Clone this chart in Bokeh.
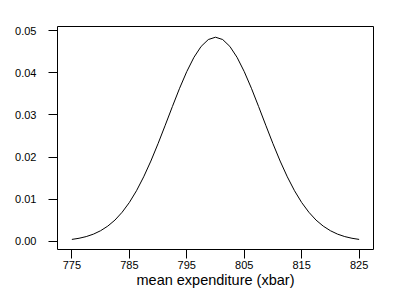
from bokeh.plotting import figure
from bokeh.models import FixedTicker, Range1d, NumeralTickFormatter
from bokeh.embed import file_html
from bokeh.resources import INLINE

# values
xbar = [775, 776.25, 777.5, 778.75, 780, 781.25, 782.5, 783.75, 785, 786.25,
        787.5, 788.75, 790, 791.25, 792.5, 793.75, 795, 796.25, 797.5, 798.75,
        800, 801.25, 802.5, 803.75, 805, 806.25, 807.5, 808.75, 810, 811.25,
        812.5, 813.75, 815, 816.25, 817.5, 818.75, 820, 821.25, 822.5, 823.75,
        825]
density = [0.00049, 0.00076, 0.00116, 0.00174, 0.00255, 0.00364, 0.00507,
           0.00693, 0.00923, 0.01203, 0.01532, 0.01906, 0.02318, 0.02755,
           0.03199, 0.03631, 0.04027, 0.04365, 0.04623, 0.04786, 0.04841,
           0.04786, 0.04623, 0.04365, 0.04027, 0.03631, 0.03199, 0.02755,
           0.02318, 0.01906, 0.01532, 0.01203, 0.00923, 0.00693, 0.00507,
           0.00364, 0.00255, 0.00174, 0.00116, 0.00076, 0.00049]
x_ticks = [775, 785, 795, 805, 815, 825]
y_ticks = [0.00, 0.01, 0.02, 0.03, 0.04, 0.05]

p = figure(width=397, height=302, output_backend="svg", toolbar_location=None,
           x_range=Range1d(772.5, 827.5), y_range=Range1d(-0.0019, 0.05095),
           min_border_left=57, min_border_right=24, min_border_top=26,
           min_border_bottom=53)
p.background_fill_color = "white"
p.border_fill_color = "white"
p.outline_line_color = "black"
p.outline_line_width = 1
p.outline_line_alpha = 1
p.grid.visible = False

p.line(xbar, density, line_color="black", line_width=1)

for ax in (p.xaxis[0], p.yaxis[0]):
    ax.axis_line_color = None
    ax.major_tick_line_color = "black"
    ax.major_tick_out = 9
    ax.major_tick_in = 0
    ax.minor_tick_line_color = None
    ax.major_label_text_font = "Liberation Sans"
    ax.major_label_text_font_size = "11px"
    ax.major_label_text_color = "black"

p.xaxis.ticker = FixedTicker(ticks=x_ticks)
p.yaxis.ticker = FixedTicker(ticks=y_ticks)
p.yaxis.formatter = NumeralTickFormatter(format="0.00")
p.xaxis.major_label_standoff = 2
p.yaxis.major_label_standoff = 12
p.xaxis.axis_label = "mean expenditure (xbar)"
p.xaxis.axis_label_text_font = "Liberation Sans"
p.xaxis.axis_label_text_font_size = "14.5px"
p.xaxis.axis_label_text_font_style = "normal"
p.xaxis.axis_label_text_color = "black"
p.xaxis.axis_label_standoff = 0

open("out.html", "w").write(file_html(p, INLINE))
